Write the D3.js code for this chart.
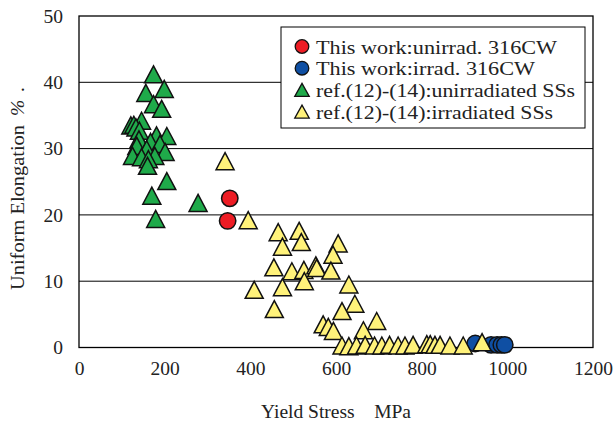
<!DOCTYPE html>
<html>
<head>
<meta charset="utf-8">
<script src="https://cdn.jsdelivr.net/npm/d3@7"></script>
<style>
  html, body { margin: 0; padding: 0; background: #fff; }
  svg { display: block; }
  text { font-family: "Liberation Serif", "DejaVu Serif", serif; fill: #222; }
</style>
</head>
<body>
<div id="chart"></div>
<script>
// Yield stress (MPa) vs uniform elongation (%)
const unirrad316CW = [
  { x: 352, y: 22.5 }, { x: 347, y: 19.1 }
];
const irrad316CW = [
  { x: 925, y: 0.6 }, { x: 962, y: 0.4 }, { x: 976, y: 0.4 },
  { x: 986, y: 0.4 }, { x: 994, y: 0.4 }
];
const refUnirradiated = [
  { x: 174, y: 41.2 }, { x: 199, y: 39.0 }, { x: 156, y: 38.4 }, { x: 174, y: 36.7 },
  { x: 193, y: 36.0 }, { x: 146, y: 34.2 }, { x: 121, y: 33.5 }, { x: 128, y: 33.6 },
  { x: 133, y: 33.2 }, { x: 141, y: 32.7 }, { x: 181, y: 32.0 }, { x: 205, y: 31.9 },
  { x: 140, y: 31.4 }, { x: 167, y: 31.0 }, { x: 189, y: 30.7 }, { x: 135, y: 30.4 },
  { x: 158, y: 29.9 }, { x: 201, y: 29.5 }, { x: 125, y: 28.9 }, { x: 146, y: 28.7 },
  { x: 177, y: 28.9 }, { x: 162, y: 28.4 }, { x: 160, y: 27.4 }, { x: 205, y: 25.1 },
  { x: 170, y: 22.9 }, { x: 179, y: 19.4 }, { x: 278, y: 21.8 }
];
const refIrradiated = [
  { x: 341, y: 28.1 }, { x: 395, y: 19.2 }, { x: 465, y: 17.4 }, { x: 514, y: 17.6 },
  { x: 519, y: 15.9 }, { x: 475, y: 15.2 }, { x: 605, y: 15.7 }, { x: 593, y: 14.0 },
  { x: 455, y: 12.1 }, { x: 497, y: 11.5 }, { x: 525, y: 11.7 }, { x: 553, y: 12.4 },
  { x: 555, y: 12.0 }, { x: 588, y: 11.6 }, { x: 526, y: 10.0 }, { x: 409, y: 8.7 },
  { x: 475, y: 9.1 }, { x: 630, y: 9.5 }, { x: 456, y: 5.8 }, { x: 644, y: 6.6 },
  { x: 614, y: 5.5 }, { x: 695, y: 4.0 }, { x: 570, y: 3.5 }, { x: 582, y: 3.1 },
  { x: 594, y: 2.5 }, { x: 664, y: 2.6 },
  { x: 614, y: 0.3 }, { x: 630, y: 0.2 }, { x: 648, y: 0.3 }, { x: 668, y: 0.4 },
  { x: 690, y: 0.3 }, { x: 707, y: 0.3 }, { x: 725, y: 0.4 }, { x: 745, y: 0.3 },
  { x: 761, y: 0.3 }, { x: 780, y: 0.4 }, { x: 812, y: 0.5 }, { x: 820, y: 0.5 },
  { x: 831, y: 0.4 }, { x: 843, y: 0.4 }, { x: 866, y: 0.3 }, { x: 897, y: 0.3 },
  { x: 941, y: 0.8 }
];
const xTicks = [0, 200, 400, 600, 800, 1000, 1200];
const yTicks = [0, 10, 20, 30, 40, 50];
const gridValues = [10, 20, 30, 40];
const legendLabels = [
  "This work:unirrad. 316CW",
  "This work:irrad. 316CW",
  "ref.(12)-(14):unirradiated SSs",
  "ref.(12)-(14):irradiated SSs"
];

const W = 616, H = 426;
const margin = { left: 79, top: 16, right: 23, bottom: 78.5 };
const pw = W - margin.left - margin.right;
const ph = H - margin.top - margin.bottom;

const svg = d3.select("#chart").append("svg").attr("width", W).attr("height", H);
svg.append("rect").attr("width", W).attr("height", H).attr("fill", "#fff");

const g = svg.append("g").attr("transform", `translate(${margin.left},${margin.top})`);

const x = d3.scaleLinear().domain([0, 1200]).range([0, pw]);
const y = d3.scaleLinear().domain([0, 50]).range([ph, 0]);

// horizontal grid
g.selectAll("line.grid").data(gridValues).join("line")
  .attr("class", "grid")
  .attr("x1", 0).attr("x2", pw)
  .attr("y1", d => y(d)).attr("y2", d => y(d))
  .attr("stroke", "#000").attr("stroke-width", 1);

// plot frame
g.append("rect").attr("x", 0).attr("y", 0).attr("width", pw).attr("height", ph)
  .attr("fill", "none").attr("stroke", "#000").attr("stroke-width", 1.3);

// axes (labels only)
const xAxis = g.append("g").attr("transform", `translate(0,${ph})`)
  .call(d3.axisBottom(x).tickValues(xTicks).tickSize(0).tickPadding(14).tickFormat(d3.format("d")));
const yAxis = g.append("g")
  .call(d3.axisLeft(y).tickValues(yTicks).tickSize(0).tickPadding(16).tickFormat(d3.format("d")));
[xAxis, yAxis].forEach(a => {
  a.select(".domain").remove();
  a.selectAll("text").attr("font-size", 19.5).attr("fill", "#222")
    .attr("font-family", "'Liberation Serif', serif");
});

// axis titles
svg.append("text").attr("x", margin.left + pw / 2).attr("y", 418)
  .attr("text-anchor", "middle").attr("font-size", 19)
  .attr("textLength", 150).attr("lengthAdjust", "spacingAndGlyphs")
  .text("Yield Stress\u2003MPa");

const yt = svg.append("g").attr("transform", "translate(24,0) rotate(-90)");
yt.append("text").attr("x", -290).attr("y", 0).attr("font-size", 19.5)
  .attr("textLength", 165).attr("lengthAdjust", "spacingAndGlyphs")
  .text("Uniform Elongation");
yt.append("text").attr("x", -116).attr("y", 0).attr("font-size", 19.5)
  .attr("font-style", "italic").text("%");
yt.append("text").attr("x", -92).attr("y", 0).attr("font-size", 19.5).text(".");

// markers
const tri = (w, h) => `M0,${-h / 2}L${w / 2},${h / 2}L${-w / 2},${h / 2}Z`;
const stroke = "#111";

g.selectAll("circle.red").data(unirrad316CW).join("circle")
  .attr("cx", d => x(d.x)).attr("cy", d => y(d.y)).attr("r", 8.2)
  .attr("fill", "#ED1C24").attr("stroke", stroke).attr("stroke-width", 1.5);

g.selectAll("circle.blue").data(irrad316CW).join("circle")
  .attr("cx", d => x(d.x)).attr("cy", d => y(d.y)).attr("r", 8.2)
  .attr("fill", "#0F4FA3").attr("stroke", stroke).attr("stroke-width", 1.5);

g.selectAll("path.green").data(refUnirradiated).join("path")
  .attr("transform", d => `translate(${x(d.x)},${y(d.y)})`)
  .attr("d", tri(18, 17))
  .attr("fill", "#1FAA4A").attr("stroke", stroke).attr("stroke-width", 1.5)
  .attr("stroke-linejoin", "miter");

g.selectAll("path.yellow").data(refIrradiated).join("path")
  .attr("transform", d => `translate(${x(d.x)},${y(d.y)})`)
  .attr("d", tri(18, 17))
  .attr("fill", "#FFF27A").attr("stroke", stroke).attr("stroke-width", 1.5)
  .attr("stroke-linejoin", "miter");

// legend
const lg = svg.append("g").attr("transform", "translate(281,27)");
lg.append("rect").attr("width", 304).attr("height", 101)
  .attr("fill", "#fff").attr("stroke", "#000").attr("stroke-width", 1);
const legendStyle = [
  { shape: "circle", fill: "#ED1C24" },
  { shape: "circle", fill: "#0F4FA3" },
  { shape: "tri", fill: "#1FAA4A" },
  { shape: "tri", fill: "#FFF27A" }
];
const textWidths = [241, 219, 259, 237];
legendLabels.forEach((lab, i) => {
  const cy = 19.5 + i * 21.7;
  const st = legendStyle[i];
  if (st.shape === "circle") {
    lg.append("circle").attr("cx", 21).attr("cy", cy).attr("r", 6.8)
      .attr("fill", st.fill).attr("stroke", stroke).attr("stroke-width", 1.3);
  } else {
    lg.append("path").attr("transform", `translate(21,${cy})`).attr("d", tri(14.5, 13))
      .attr("fill", st.fill).attr("stroke", stroke).attr("stroke-width", 1.3);
  }
  lg.append("text").attr("x", 35).attr("y", cy + 7)
    .attr("font-size", 19)
    .attr("textLength", textWidths[i]).attr("lengthAdjust", "spacingAndGlyphs")
    .text(lab);
});
</script>
</body>
</html>
